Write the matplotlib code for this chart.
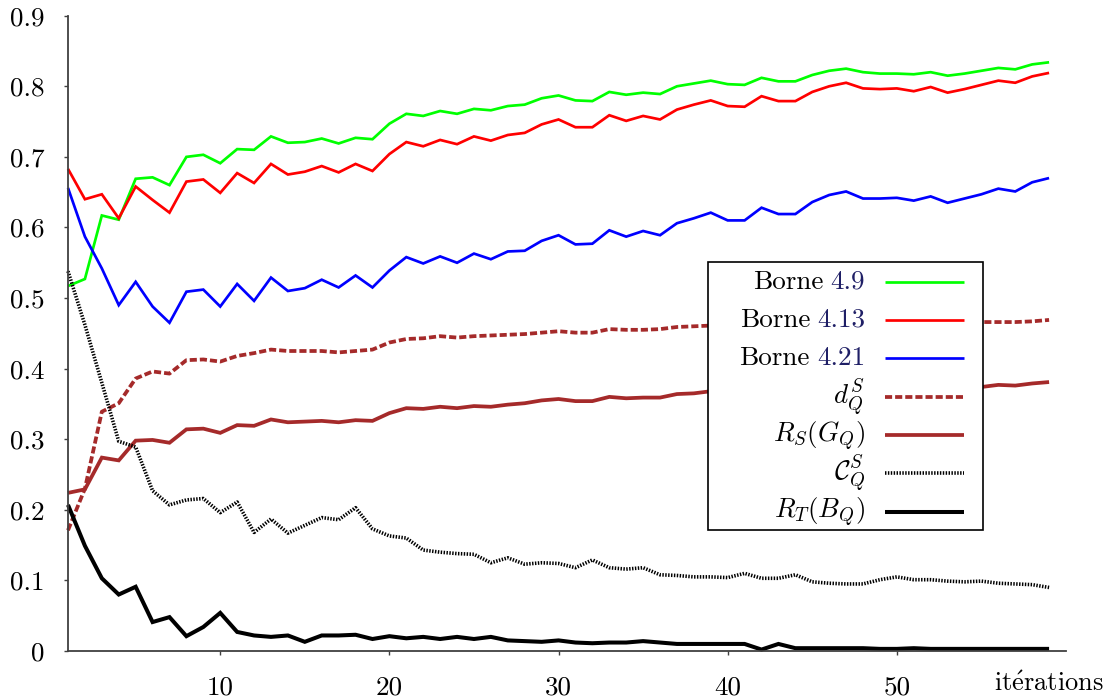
import matplotlib
matplotlib.use("Agg")
import matplotlib.pyplot as plt
from matplotlib.lines import Line2D
from matplotlib.patches import Rectangle

# ---------------- data ----------------
iterations = list(range(1, 60))

borne_4_9 = [0.517, 0.527, 0.617, 0.611, 0.669, 0.671, 0.660, 0.700, 0.703, 0.691,
             0.711, 0.710, 0.729, 0.720, 0.721, 0.726, 0.719, 0.727, 0.725, 0.747,
             0.761, 0.758, 0.765, 0.761, 0.768, 0.766, 0.772, 0.774, 0.783, 0.787,
             0.780, 0.779, 0.792, 0.788, 0.791, 0.789, 0.800, 0.804, 0.808, 0.803,
             0.802, 0.812, 0.807, 0.807, 0.816, 0.822, 0.825, 0.820, 0.818, 0.818,
             0.817, 0.820, 0.815, 0.818, 0.822, 0.826, 0.824, 0.831, 0.834]

borne_4_13 = [0.683, 0.640, 0.647, 0.613, 0.658, 0.639, 0.621, 0.665, 0.668, 0.649,
              0.677, 0.663, 0.690, 0.675, 0.679, 0.687, 0.678, 0.690, 0.680, 0.704,
              0.721, 0.715, 0.724, 0.718, 0.729, 0.723, 0.731, 0.734, 0.746, 0.753,
              0.742, 0.742, 0.759, 0.751, 0.758, 0.753, 0.767, 0.774, 0.780, 0.772,
              0.771, 0.786, 0.779, 0.779, 0.792, 0.800, 0.805, 0.797, 0.796, 0.797,
              0.793, 0.799, 0.791, 0.796, 0.802, 0.808, 0.805, 0.814, 0.819]

borne_4_21 = [0.656, 0.587, 0.542, 0.490, 0.523, 0.488, 0.465, 0.509, 0.512, 0.488,
              0.520, 0.496, 0.529, 0.510, 0.514, 0.526, 0.515, 0.532, 0.515, 0.539,
              0.558, 0.549, 0.559, 0.550, 0.563, 0.555, 0.566, 0.567, 0.581, 0.589,
              0.576, 0.577, 0.596, 0.587, 0.595, 0.589, 0.606, 0.613, 0.621, 0.610,
              0.610, 0.628, 0.619, 0.619, 0.636, 0.646, 0.651, 0.641, 0.641, 0.642,
              0.638, 0.644, 0.635, 0.641, 0.647, 0.655, 0.651, 0.664, 0.670]

d_QS = [0.171, 0.230, 0.339, 0.351, 0.386, 0.396, 0.393, 0.412, 0.413, 0.410,
        0.418, 0.422, 0.427, 0.425, 0.425, 0.425, 0.423, 0.425, 0.427, 0.437,
        0.442, 0.443, 0.446, 0.444, 0.446, 0.447, 0.448, 0.449, 0.451, 0.453,
        0.451, 0.451, 0.456, 0.455, 0.455, 0.456, 0.459, 0.460, 0.461, 0.459,
        0.459, 0.462, 0.461, 0.461, 0.463, 0.465, 0.466, 0.464, 0.464, 0.464,
        0.463, 0.465, 0.463, 0.465, 0.466, 0.466, 0.466, 0.467, 0.469]

R_S_GQ = [0.224, 0.229, 0.274, 0.270, 0.298, 0.299, 0.295, 0.314, 0.315, 0.309,
          0.320, 0.319, 0.328, 0.324, 0.325, 0.326, 0.324, 0.327, 0.326, 0.337,
          0.344, 0.343, 0.346, 0.344, 0.347, 0.346, 0.349, 0.351, 0.355, 0.357,
          0.354, 0.354, 0.360, 0.358, 0.359, 0.359, 0.364, 0.365, 0.368, 0.366,
          0.366, 0.370, 0.368, 0.368, 0.371, 0.373, 0.374, 0.372, 0.372, 0.372,
          0.371, 0.373, 0.371, 0.373, 0.374, 0.377, 0.376, 0.379, 0.381]

C_QS = [0.538, 0.462, 0.380, 0.297, 0.289, 0.227, 0.207, 0.214, 0.216, 0.196,
        0.211, 0.168, 0.187, 0.167, 0.178, 0.189, 0.186, 0.203, 0.173, 0.163,
        0.160, 0.143, 0.140, 0.138, 0.137, 0.125, 0.132, 0.123, 0.125, 0.124,
        0.118, 0.129, 0.118, 0.116, 0.118, 0.108, 0.107, 0.105, 0.105, 0.104,
        0.110, 0.103, 0.103, 0.108, 0.098, 0.096, 0.095, 0.095, 0.101, 0.105,
        0.101, 0.101, 0.099, 0.098, 0.099, 0.096, 0.095, 0.094, 0.090]

R_T_BQ = [0.207, 0.149, 0.103, 0.080, 0.091, 0.041, 0.048, 0.021, 0.034, 0.054,
          0.027, 0.022, 0.020, 0.022, 0.013, 0.022, 0.022, 0.023, 0.017, 0.021,
          0.018, 0.020, 0.017, 0.020, 0.017, 0.020, 0.015, 0.014, 0.013, 0.015,
          0.012, 0.011, 0.012, 0.012, 0.014, 0.012, 0.010, 0.010, 0.010, 0.010,
          0.010, 0.002, 0.010, 0.004, 0.004, 0.004, 0.004, 0.004, 0.003, 0.003,
          0.004, 0.003, 0.003, 0.003, 0.003, 0.003, 0.003, 0.003, 0.003]

x_ticks = [10, 20, 30, 40, 50]
y_ticks = [0, 0.1, 0.2, 0.3, 0.4, 0.5, 0.6, 0.7, 0.8, 0.9]
y_tick_labels = ["0", "0.1", "0.2", "0.3", "0.4", "0.5", "0.6", "0.7", "0.8", "0.9"]

borne_prefix = "Borne"
borne_refs = ["4.9", "4.13", "4.21"]
math_labels = [r"$d_Q^S$", r"$R_S(G_Q)$", r"$\mathcal{C}_Q^S$", r"$R_T(B_Q)$"]
x_label = r"$\mathrm{it\acute{e}rations}$"

# ---------------- style ----------------
plt.rcParams["font.family"] = ["cmr10", "DejaVu Serif"]
plt.rcParams["mathtext.fontset"] = "cm"
plt.rcParams["axes.unicode_minus"] = False

W, H = 1109, 700
FS = 19.5
GREEN, RED, BLUE = "#00ff00", "#ff0000", "#0000ff"
BROWN = "#a52a2a"
NAVY = "#1f1f66"
AXC = "#404040"

fig = plt.figure(figsize=(W / 100, H / 100), dpi=100)
ax = fig.add_axes([68 / W, (H - 651) / H, (1066 - 68) / W, (651 - 15.7) / H])

styles = [
    dict(color=GREEN, lw=1.95, ls="-"),
    dict(color=RED, lw=1.95, ls="-"),
    dict(color=BLUE, lw=1.95, ls="-"),
    dict(color=BROWN, lw=2.7, ls=(0, (1.9, 0.8))),
    dict(color=BROWN, lw=2.7, ls="-"),
    dict(color="black", lw=2.6, ls=(0, (0.4, 0.4))),
    dict(color="black", lw=2.9, ls="-"),
]
series = [borne_4_9, borne_4_13, borne_4_21, d_QS, R_S_GQ, C_QS, R_T_BQ]
for s, st in zip(series, styles):
    ax.plot(iterations, s, clip_on=False, solid_joinstyle="miter",
            dash_capstyle="butt", solid_capstyle="butt", **st)

ax.set_xlim(1, 60)
ax.set_ylim(0, 0.9)
ax.set_xticks(x_ticks)
ax.set_xticklabels([str(t) for t in x_ticks])
ax.set_yticks(y_ticks)
ax.set_yticklabels(y_tick_labels)
for sp in ["top", "right"]:
    ax.spines[sp].set_visible(False)
for sp in ["left", "bottom"]:
    ax.spines[sp].set_color(AXC)
    ax.spines[sp].set_linewidth(1.3)
ax.tick_params(axis="both", direction="out", length=3, width=1.0, color=AXC,
               labelsize=FS, pad=14)
ax.tick_params(axis="x", pad=15)
ax.patch.set_visible(False)

# x label at the right end, below the axis, on the tick-label baseline
ax.annotate(x_label, xy=(59, 0), xycoords="data", xytext=(0, -28.5),
            textcoords="offset points", ha="center", va="baseline", fontsize=FS - 0.5)


# ---------------- legend (drawn by hand to allow two-colour labels) ----------------
def fx(px):
    return px / W


def fy(py):
    return 1 - py / H


box = Rectangle((fx(708), fy(530)), fx(983) - fx(708), fy(262) - fy(530),
                transform=fig.transFigure, facecolor="white", edgecolor="black",
                linewidth=1.2, zorder=10)
fig.add_artist(box)

row_y = [281.7 + 38.3 * k for k in range(7)]
text_right = 865
renderer = fig.canvas.get_renderer()
for k, (st, y) in enumerate(zip(styles, row_y)):
    ln = Line2D([fx(885), fx(964)], [fy(y), fy(y)], transform=fig.transFigure,
                zorder=11, dash_capstyle="butt", solid_capstyle="butt", **st)
    fig.add_artist(ln)
    base = fy(y + 7)
    if k < 3:
        t = fig.text(fx(text_right), base, borne_refs[k], ha="right", va="baseline",
                     fontsize=FS, color=NAVY, zorder=12)
        w = t.get_window_extent(renderer).width
        fig.text(fx(text_right - w - 7), base, borne_prefix, ha="right",
                 va="baseline", fontsize=FS, color="black", zorder=12)
    else:
        fig.text(fx(text_right), base, math_labels[k - 3], ha="right",
                 va="baseline", fontsize=FS, color="black", zorder=12)

fig.savefig("out.png", dpi=100)
